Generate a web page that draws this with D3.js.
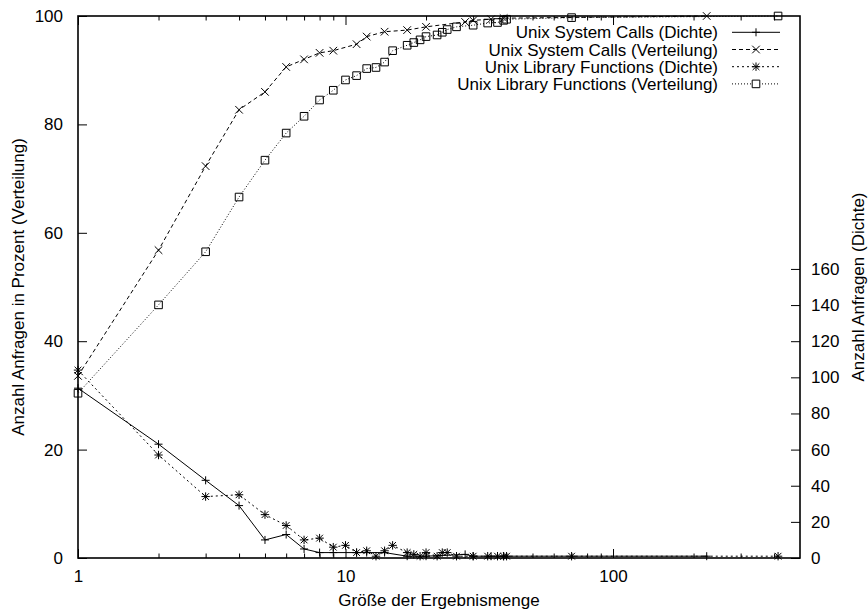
<!DOCTYPE html>
<html>
<head>
<meta charset="utf-8">
<script src="https://cdn.jsdelivr.net/npm/d3@7"></script>
<style>
  html, body { margin: 0; padding: 0; background: #fff; }
  svg { display: block; }
  text { font-family: "Liberation Sans", Arial, Helvetica, sans-serif; font-size: 17px; fill: #000; }
</style>
</head>
<body>
<svg id="chart" width="868" height="612"></svg>
<script>
// Result-set sizes (x) and query counts / cumulative percentages
const sysX = [1, 2, 3, 4, 5, 6, 7, 8, 9, 11, 12, 14, 17, 20, 28, 30, 35, 39, 224];
const sysDichte = [94, 63, 43, 29, 10, 13, 5, 3, 3, 3, 3, 3, 1, 1, 2, 1, 1, 1, 1];
const sysVerteilung = [33.6, 56.8, 72.3, 82.7, 86.0, 90.6, 92.0, 93.2, 93.6, 94.8, 96.2, 97.1, 97.4, 98.0, 98.9, 99.2, 99.4, 99.6, 100];

const libX = [1, 2, 3, 4, 5, 6, 7, 8, 9, 10, 11, 12, 13, 14, 15, 17, 18, 19, 20, 22, 23, 24, 26, 30, 34, 37, 39, 40, 70, 414];
const libDichte = [104, 57, 34, 35, 24, 18, 10, 11, 6, 7, 3, 4, 1, 4, 7, 3, 2, 1, 3, 1, 3, 3, 1, 1, 1, 1, 1, 1, 1, 1];
const libVerteilung = [30.4, 46.7, 56.5, 66.6, 73.4, 78.4, 81.5, 84.5, 86.3, 88.2, 89.0, 90.3, 90.5, 91.5, 93.6, 94.6, 95.1, 95.6, 96.2, 96.5, 97.0, 97.5, 98.0, 98.3, 98.7, 98.8, 99.2, 99.4, 99.7, 100];

const seriesNames = [
  "Unix System Calls (Dichte)",
  "Unix System Calls (Verteilung)",
  "Unix Library Functions (Dichte)",
  "Unix Library Functions (Verteilung)"
];

const xMajorTicks = [1, 10, 100];
const xMinorTicks = [2, 3, 4, 5, 6, 7, 8, 9, 20, 30, 40, 50, 60, 70, 80, 90, 200, 300, 400];
const yTicks = [0, 20, 40, 60, 80, 100];
const y2Ticks = [0, 20, 40, 60, 80, 100, 120, 140, 160];

const xTitle = "Größe der Ergebnismenge";
const yTitle = "Anzahl Anfragen in Prozent (Verteilung)";
const y2Title = "Anzahl Anfragen (Dichte)";

// Plot frame
const L = 78, R = 800, T = 16, B = 558;

const svg = d3.select("#chart");

const x = d3.scaleLog().domain([1, 500]).range([L, R]);
const y = d3.scaleLinear().domain([0, 100]).range([B, T]);
const y2 = d3.scaleLinear().domain([0, 300]).range([B, T]);

// Marker shapes (gnuplot point types 1-4)
function plusPath(s) { return `M${-s},0H${s}M0,${-s}V${s}`; }
function crossPath(s) { return `M${-s},${-s}L${s},${s}M${-s},${s}L${s},${-s}`; }
function starPath(s) { return plusPath(s) + crossPath(s * 0.8); }
function squarePath(s) { return `M${-s},${-s}H${s}V${s}H${-s}Z`; }

const series = [
  { name: seriesNames[0], xs: sysX, ys: sysDichte, scale: y2, dash: null, marker: plusPath(4) },
  { name: seriesNames[1], xs: sysX, ys: sysVerteilung, scale: y, dash: "4,3", marker: crossPath(3.8) },
  { name: seriesNames[2], xs: libX, ys: libDichte, scale: y2, dash: "2,3", marker: starPath(4.2) },
  { name: seriesNames[3], xs: libX, ys: libVerteilung, scale: y, dash: "1,2", marker: squarePath(3.8) }
];

// Axes: ticks drawn through d3 axis generators, then border box
const axisG = svg.append("g");

function styleAxis(g) {
  g.select(".domain").remove();
  g.selectAll(".tick line").attr("stroke", "#000").attr("stroke-width", 1);
  g.selectAll("text").attr("font-size", null).attr("font-family", null);
}

// bottom major + labels
axisG.append("g").attr("transform", `translate(0,${B})`)
  .call(d3.axisBottom(x).tickValues(xMajorTicks).tickSize(-9).tickPadding(12).tickFormat(d3.format("d")))
  .call(styleAxis);
// bottom minor
axisG.append("g").attr("transform", `translate(0,${B})`)
  .call(d3.axisBottom(x).tickValues(xMinorTicks).tickSize(-4.5).tickFormat(""))
  .call(styleAxis);
// top mirrored
axisG.append("g").attr("transform", `translate(0,${T})`)
  .call(d3.axisTop(x).tickValues(xMajorTicks).tickSize(-9).tickFormat(""))
  .call(styleAxis);
axisG.append("g").attr("transform", `translate(0,${T})`)
  .call(d3.axisTop(x).tickValues(xMinorTicks).tickSize(-4.5).tickFormat(""))
  .call(styleAxis);
// left
axisG.append("g").attr("transform", `translate(${L},0)`)
  .call(d3.axisLeft(y).tickValues(yTicks).tickSize(-9).tickPadding(15))
  .call(styleAxis);
// right
axisG.append("g").attr("transform", `translate(${R},0)`)
  .call(d3.axisRight(y2).tickValues(y2Ticks).tickSize(-9).tickPadding(11))
  .call(styleAxis);

// border
svg.append("rect")
  .attr("x", L).attr("y", T).attr("width", R - L).attr("height", B - T)
  .attr("fill", "none").attr("stroke", "#000").attr("stroke-width", 1.6);

// data lines and markers
const plot = svg.append("g");
series.forEach(s => {
  const pts = s.xs.map((v, i) => [x(v), s.scale(s.ys[i])]);
  plot.append("path")
    .attr("d", d3.line()(pts))
    .attr("fill", "none")
    .attr("stroke", "#000")
    .attr("stroke-width", 1)
    .attr("stroke-dasharray", s.dash);
  plot.append("g").selectAll("path")
    .data(pts)
    .join("path")
    .attr("transform", d => `translate(${d[0]},${d[1]})`)
    .attr("d", s.marker)
    .attr("fill", "none")
    .attr("stroke", "#000")
    .attr("stroke-width", 1);
});

// legend
const legend = svg.append("g");
const rowY = [32.3, 49.5, 66.7, 83.9];
series.forEach((s, i) => {
  const yy = rowY[i];
  legend.append("text")
    .attr("x", 718).attr("y", yy + 6)
    .attr("text-anchor", "end")
    .text(s.name);
  legend.append("line")
    .attr("x1", 732).attr("x2", 780).attr("y1", yy).attr("y2", yy)
    .attr("stroke", "#000").attr("stroke-width", 1)
    .attr("stroke-dasharray", s.dash);
  legend.append("path")
    .attr("transform", `translate(756,${yy})`)
    .attr("d", s.marker)
    .attr("fill", "#fff")
    .attr("stroke", "#000");
});

// axis titles
svg.append("text")
  .attr("x", (L + R) / 2).attr("y", 606)
  .attr("text-anchor", "middle")
  .text(xTitle);
svg.append("text")
  .attr("transform", `translate(24,${(T + B) / 2}) rotate(-90)`)
  .attr("text-anchor", "middle")
  .text(yTitle);
svg.append("text")
  .attr("transform", `translate(864,${(T + B) / 2}) rotate(-90)`)
  .attr("text-anchor", "middle")
  .text(y2Title);
</script>
</body>
</html>
